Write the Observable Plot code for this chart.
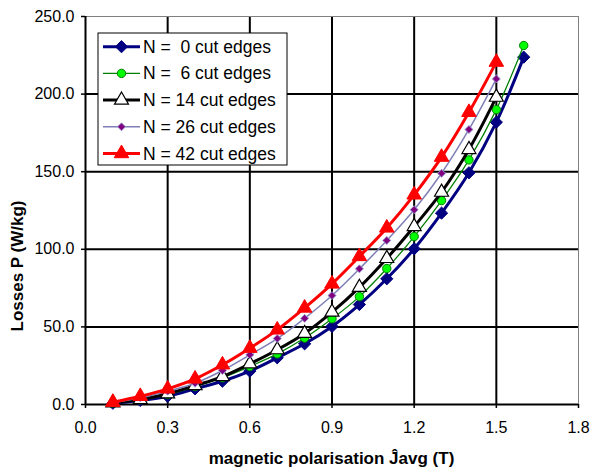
<!DOCTYPE html>
<html>
<head>
<meta charset="utf-8">
<script src="https://cdn.jsdelivr.net/npm/d3@7"></script>
<script src="https://cdn.jsdelivr.net/npm/@observablehq/plot@0.6"></script>
<style>
  html, body { margin: 0; padding: 0; background: #fff; }
  #chart { width: 592px; height: 468px; }
</style>
</head>
<body>
<div id="chart"></div>
<script>
const xValues = [0.1, 0.2, 0.3, 0.4, 0.5, 0.6, 0.7, 0.8, 0.9, 1.0, 1.1, 1.2, 1.3, 1.4, 1.5, 1.6];
const seriesNames = ["N =  0 cut edges", "N =  6 cut edges", "N = 14 cut edges", "N = 26 cut edges", "N = 42 cut edges"];
const n0 = [0.8, 2.6, 5.3, 10.1, 15.0, 21.5, 30.1, 39.1, 50.3, 64.4, 81.0, 100.3, 123.3, 149.3, 181.9, 223.8];
const n6 = [1.0, 3.0, 6.4, 11.6, 17.2, 24.5, 32.6, 42.8, 55.2, 69.5, 87.6, 108.2, 131.4, 157.6, 190.0, 231.3];
const n14 = [1.1, 3.2, 6.9, 12.2, 18.0, 26.2, 35.3, 45.8, 59.5, 75.5, 94.1, 114.7, 136.8, 164.3, 198.0];
const n26 = [1.2, 4.3, 8.6, 13.7, 21.9, 32.0, 42.5, 55.5, 70.2, 87.4, 105.7, 125.5, 149.0, 177.2, 209.8];
const n42 = [1.5, 5.3, 10.1, 16.5, 25.6, 36.3, 48.1, 62.2, 77.7, 95.4, 113.8, 135.1, 159.4, 188.3, 220.6];
const xTicks = [0, 0.3, 0.6, 0.9, 1.2, 1.5, 1.8];
const yTicks = [0, 50, 100, 150, 200, 250];

const styles = [
  {line: "#000080", lw: 3, symbol: "diamond2", r: 5.5, fill: "#000080", stroke: "#000080", sw: 1},
  {line: "#008000", lw: 1.25, symbol: "circle", r: 4.2, fill: "#00ff00", stroke: "#008000", sw: 1},
  {line: "#000000", lw: 3, symbol: "triangle", r: 5.2, fill: "#ffffff", stroke: "#000000", sw: 1.2},
  {line: "#7f7fb8", lw: 1.5, symbol: "diamond2", r: 3.6, fill: "#800080", stroke: "#9a9ad0", sw: 1},
  {line: "#ff0000", lw: 3, symbol: "triangle", r: 5.4, fill: "#ff0000", stroke: "#ff0000", sw: 1}
];
const seriesValues = [n0, n6, n14, n26, n42];
const data = seriesValues.map((vals, i) => vals.map((y, j) => ({x: xValues[j], y, s: seriesNames[i]})));

const fmt = d3.format(".1f");
const marks = [
  Plot.gridX(xTicks.filter(d => d > 0 && d < 1.8), {stroke: "#000", strokeOpacity: 1, strokeWidth: 2}),
  Plot.gridY(yTicks.filter(d => d > 0 && d < 250), {stroke: "#000", strokeOpacity: 1, strokeWidth: 2}),
  Plot.frame({stroke: "#808080", strokeWidth: 1}),
  Plot.ruleX([0], {stroke: "#000", strokeWidth: 2}),
  Plot.ruleY([0], {stroke: "#000", strokeWidth: 2}),
  Plot.axisX(xTicks, {tickFormat: fmt, tickSize: 4, tickPadding: 13, fontSize: 16, label: null, strokeWidth: 1.5}),
  Plot.axisY(yTicks, {tickFormat: fmt, tickSize: 4, tickPadding: 7, fontSize: 16, label: null, strokeWidth: 1.5})
];
data.forEach((d, i) => {
  const st = styles[i];
  marks.push(Plot.line(d, {x: "x", y: "y", stroke: st.line, strokeWidth: st.lw, curve: "catmull-rom"}));
  marks.push(Plot.dot(d, {x: "x", y: "y", symbol: () => st.symbol, r: st.r, fill: st.fill, stroke: st.stroke, strokeWidth: st.sw}));
});

const plot = Plot.plot({
  width: 592,
  height: 468,
  marginLeft: 85,
  marginRight: 14,
  marginTop: 16,
  marginBottom: 64,
  x: {domain: [0, 1.8]},
  y: {domain: [0, 250]},
  symbol: {type: "identity"},
  style: {fontFamily: "'Liberation Sans', Arial, sans-serif", fontSize: "16px", background: "#fff", color: "#000"},
  marks
});
document.getElementById("chart").appendChild(plot);

const svg = d3.select(plot);
const font = "'Liberation Sans', Arial, sans-serif";
svg.append("text")
  .attr("transform", "translate(17,266) rotate(-90)")
  .attr("text-anchor", "middle").attr("dominant-baseline", "central")
  .attr("font-family", font).attr("font-size", 17).attr("font-weight", "bold")
  .text("Losses P (W/kg)");
svg.append("text")
  .attr("x", 331.5).attr("y", 458)
  .attr("text-anchor", "middle").attr("dominant-baseline", "central")
  .attr("font-family", font).attr("font-size", 17).attr("font-weight", "bold")
  .text("magnetic polarisation Ĵavg (T)");

// Legend
const lg = svg.append("g");
lg.append("rect").attr("x", 98).attr("y", 33).attr("width", 189).attr("height", 132)
  .attr("fill", "#fff").attr("stroke", "#000").attr("stroke-width", 1);
const symMap = {diamond2: d3.symbolDiamond2, circle: d3.symbolCircle, triangle: d3.symbolTriangle};
seriesNames.forEach((name, i) => {
  const st = styles[i];
  const cy = 46.7 + i * 26.7;
  lg.append("line").attr("x1", 103).attr("x2", 140).attr("y1", cy).attr("y2", cy)
    .attr("stroke", st.line).attr("stroke-width", st.lw);
  lg.append("path").attr("transform", `translate(121.5,${cy})`)
    .attr("d", d3.symbol(symMap[st.symbol], Math.PI * st.r * st.r)())
    .attr("fill", st.fill).attr("stroke", st.stroke).attr("stroke-width", st.sw);
  lg.append("text").attr("x", 143).attr("y", cy)
    .attr("text-anchor", "start")
    .attr("dominant-baseline", "central").attr("font-family", font).attr("font-size", 17.5)
    .style("white-space", "pre")
    .text(name);
});
</script>
</body>
</html>
